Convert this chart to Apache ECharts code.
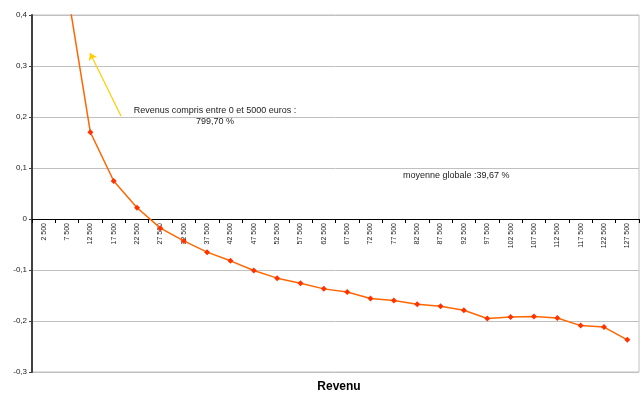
<!DOCTYPE html>
<html>
<head>
<meta charset="utf-8">
<script src="https://cdn.jsdelivr.net/npm/echarts@6/dist/echarts.min.js"></script>
<style>
  html, body { margin: 0; padding: 0; background: #fff; }
  #chart { width: 643px; height: 395px; }
</style>
</head>
<body>
<div id="chart"></div>
<script>
// Income brackets (euros) — centre of each 5000-euro band
const categories = ['2 500', '7 500', '12 500', '17 500', '22 500', '27 500', '32 500', '37 500',
  '42 500', '47 500', '52 500', '57 500', '62 500', '67 500', '72 500', '77 500', '82 500',
  '87 500', '92 500', '97 500', '102 500', '107 500', '112 500', '117 500', '122 500', '127 500'];

// Relative deviation for each bracket (first bracket is far above the visible range)
const values = [7.997, 0.452, 0.170, 0.0745, 0.022, -0.018, -0.043, -0.065, -0.082, -0.101,
  -0.116, -0.126, -0.137, -0.143, -0.156, -0.160, -0.167, -0.171, -0.179, -0.195,
  -0.192, -0.191, -0.194, -0.209, -0.212, -0.237];

// Value-axis range
const yMin = -0.3, yMax = 0.4, yStep = 0.1;

const noteFirst = ['Revenus compris entre 0 et 5000 euros :', '799,70 %'];
const noteMean = 'moyenne globale :39,67 %';
const xTitle = 'Revenu';

const font = '"Liberation Sans", Arial, sans-serif';
const W = 643, H = 395;
const gridPad = { left: 32, right: 4, top: 15, bottom: 23 };

// The category axis sits on the zero line: shift it up from the bottom edge
const plotH = H - gridPad.top - gridPad.bottom;
const zeroOffset = Math.round(plotH * (0 - yMin) / (yMax - yMin));

const chart = echarts.init(document.getElementById('chart'), null, { renderer: 'canvas' });

chart.setOption({
  animation: false,
  backgroundColor: '#ffffff',
  grid: Object.assign({ show: true, borderColor: '#c0c0c0', borderWidth: 1 }, gridPad),
  xAxis: {
    type: 'category',
    data: categories,
    position: 'bottom',
    offset: -zeroOffset,
    boundaryGap: true,
    axisLine: { onZero: false, lineStyle: { color: '#000', width: 1 } },
    axisTick: { show: true, length: 4, lineStyle: { color: '#000' } },
    axisLabel: { rotate: 90, fontSize: 7, color: '#222', margin: 4, fontFamily: font, interval: 0 },
    splitLine: { show: false }
  },
  yAxis: {
    type: 'value',
    min: yMin, max: yMax, interval: yStep,
    axisLine: { show: true, lineStyle: { color: '#404040', width: 2 } },
    axisTick: { show: true, length: 3, lineStyle: { color: '#404040' } },
    axisLabel: {
      fontSize: 8, color: '#222', margin: 5, fontFamily: font,
      formatter: v => Math.abs(v) < 1e-9 ? '0' : v.toFixed(1).replace('.', ',')
    },
    splitLine: { show: true, lineStyle: { color: '#c0c0c0', width: 1 } }
  },
  series: [{
    type: 'line',
    data: values,
    clip: true,
    symbol: 'diamond',
    symbolSize: 6,
    itemStyle: { color: '#ff3300' },
    lineStyle: { color: '#ff6600', width: 1.5 },
    markLine: {
      silent: true,
      symbol: ['none', 'arrow'],
      symbolSize: 7,
      label: { show: false },
      lineStyle: { color: '#ffcc00', width: 1.2, type: 'solid' },
      data: [[{ x: 121, y: 116 }, { x: 90, y: 53 }]]
    }
  }],
  graphic: [
    {
      type: 'text',
      style: { text: noteFirst.join('\n'), x: 215, y: 105, textAlign: 'center', fontSize: 9, lineHeight: 11, fill: '#222', fontFamily: font }
    },
    {
      type: 'text',
      style: { text: noteMean, x: 403, y: 171, fontSize: 9, fill: '#222', fontFamily: font }
    },
    {
      type: 'text',
      style: { text: xTitle, x: 339, y: 381, textAlign: 'center', fontSize: 12, fontWeight: 'bold', fill: '#000', fontFamily: font }
    }
  ]
});
</script>
</body>
</html>
